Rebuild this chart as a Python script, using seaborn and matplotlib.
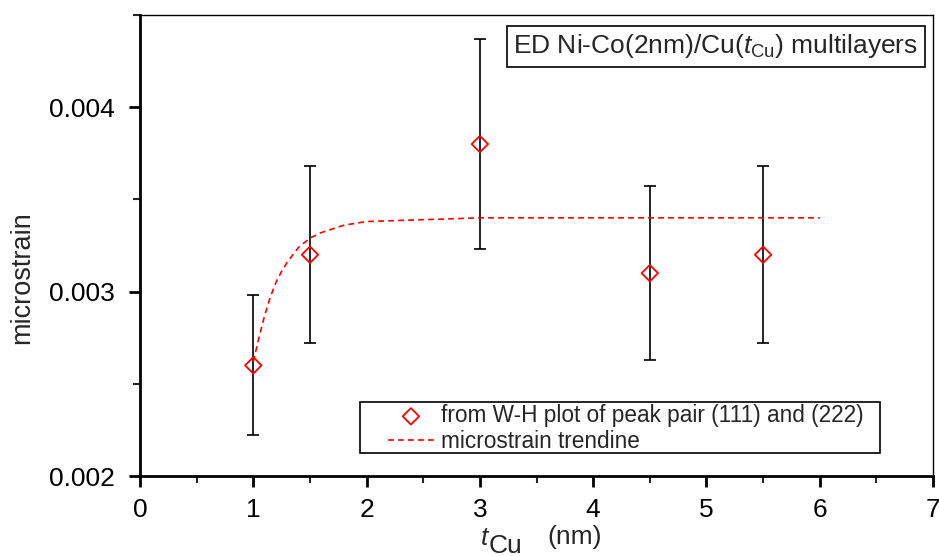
import matplotlib
matplotlib.use("Agg")
import matplotlib.pyplot as plt
import seaborn as sns
import pandas as pd
from matplotlib.ticker import MultipleLocator, FormatStrFormatter
from matplotlib.patches import Rectangle

# Data
t_cu = [1.0, 1.5, 3.0, 4.5, 5.5]
microstrain = [0.0026, 0.0032, 0.0038, 0.0031, 0.0032]
err = [0.00038, 0.00048, 0.00057, 0.00047, 0.00048]

trend_x = [1.0, 1.05, 1.1, 1.15, 1.2, 1.25, 1.3, 1.4, 1.5, 1.6, 1.8, 2.0, 2.5, 3.0, 4.0, 5.0, 6.0]
trend_y = [0.00262, 0.00275, 0.00287, 0.00297, 0.00305, 0.00311, 0.00316, 0.00324, 0.00329,
           0.00332, 0.00336, 0.00338, 0.00339, 0.0034, 0.0034, 0.0034, 0.0034]

label_pts = 'from W-H plot of peak pair (111) and (222)'
label_trend = 'microstrain trendine'

sns.set_theme(style="white")
plt.rcParams['font.family'] = ['Liberation Sans', 'DejaVu Sans']
plt.rcParams['mathtext.fontset'] = 'custom'
plt.rcParams['mathtext.rm'] = 'Liberation Sans'
plt.rcParams['mathtext.it'] = 'Liberation Sans:italic'

W, H = 939, 556
fig = plt.figure(figsize=(W/100, H/100), dpi=100)
ax = fig.add_axes([140/W, 1-476/H, (933-140)/W, (476-15)/H])

df_pts = pd.DataFrame({"x": t_cu, "y": microstrain})
df_tr = pd.DataFrame({"x": trend_x, "y": trend_y})

ax.errorbar(t_cu, microstrain, yerr=err, fmt='none', ecolor='black', elinewidth=1.2,
            capsize=4, capthick=1.2, zorder=2)
sns.lineplot(data=df_tr, x="x", y="y", ax=ax, color='red', linestyle=(0, (3.5, 2.5)),
             linewidth=1.2, label=label_trend, zorder=3)
sns.scatterplot(data=df_pts, x="x", y="y", ax=ax, marker='D', s=70, facecolor='none',
                edgecolor='red', linewidth=1.3, label=label_pts, zorder=4)

ax.set_xlim(0, 7)
ax.set_ylim(0.002, 0.0045)
ax.xaxis.set_major_locator(MultipleLocator(1))
ax.xaxis.set_minor_locator(MultipleLocator(0.5))
ax.yaxis.set_major_locator(MultipleLocator(0.001))
ax.yaxis.set_minor_locator(MultipleLocator(0.0005))
ax.yaxis.set_major_formatter(FormatStrFormatter('%.3f'))
ax.xaxis.set_major_formatter(FormatStrFormatter('%d'))

ax.tick_params(which='major', direction='out', length=8, width=2, labelsize=19,
               colors='black', bottom=True, left=True, top=False, right=False)
ax.tick_params(axis='x', which='major', pad=8)
ax.tick_params(axis='y', which='major', pad=10)
ax.tick_params(which='minor', direction='out', length=5, width=1.5,
               bottom=True, left=True, top=False, right=False)

for side in ['left', 'bottom']:
    ax.spines[side].set_linewidth(2)
    ax.spines[side].set_color('black')
for side in ['top', 'right']:
    ax.spines[side].set_linewidth(1)
    ax.spines[side].set_color('black')

ax.set_ylabel('microstrain', fontsize=19.5)
ax.yaxis.set_label_coords(-0.132, 0.43)
ax.set_xlabel('')

# x label pieces: italic t, full-size lowered "Cu", then "(nm)"
fig.text(481/W, 1-545/H, 't', fontsize=19, style='italic', ha='left', va='baseline')
fig.text(489/W, 1-553/H, 'Cu', fontsize=19, ha='left', va='baseline')
fig.text(547/W, 1-544/H, '(nm)', fontsize=19, ha='left', va='baseline')

# Legend
handles, labels = ax.get_legend_handles_labels()
order = [labels.index(label_pts), labels.index(label_trend)]
leg = ax.legend([handles[i] for i in order], [labels[i] for i in order],
                loc='upper left', bbox_to_anchor=((386-140)/793, (476-402)/461), fontsize=16.3,
                frameon=False, borderpad=0.1, labelspacing=0.1, handlelength=2.0,
                handletextpad=0.35, borderaxespad=0)
ax.add_patch(Rectangle(((360-140)/793, (476-453)/461), (880-360)/793, (453-402)/461,
                       transform=ax.transAxes, facecolor='none', edgecolor='black',
                       linewidth=1.2, zorder=5))

ax.text(0.726, 0.932, r'ED Ni-Co(2nm)/Cu($t_{\mathrm{Cu}}$) multilayers', transform=ax.transAxes,
        ha='center', va='center', fontsize=19,
        bbox=dict(boxstyle='square,pad=0.25', facecolor='white', edgecolor='black', linewidth=1.2))

fig.savefig('out.png', dpi=100)
